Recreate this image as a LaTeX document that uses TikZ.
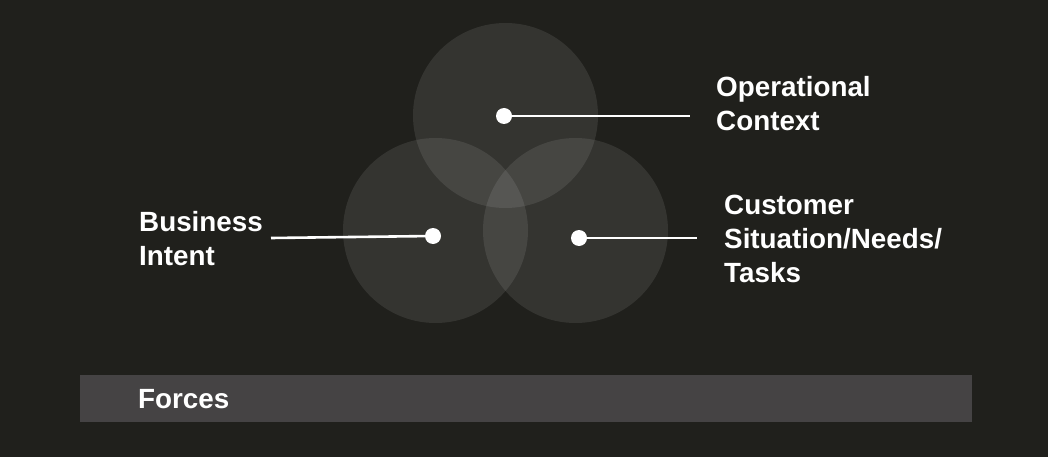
\documentclass[tikz,border=0pt]{standalone}
\usepackage{fontspec}
\setmainfont{Liberation Sans}
\definecolor{bgc}{HTML}{20201C}
\definecolor{barc}{HTML}{454344}
\begin{document}
\begin{tikzpicture}[x=1pt,y=-1pt,
  venn/.style={circle,fill=white,fill opacity=0.09,minimum size=185pt,inner sep=0pt,draw=none},
  dot/.style={circle,fill=white,minimum size=16pt,inner sep=0pt,draw=none},
  lbl/.style={anchor=base west,inner sep=0pt,text=white,font=\fontsize{27.8}{34}\selectfont\bfseries},
  conn/.style={draw=white,line width=2.6pt}]
\useasboundingbox (0,0) rectangle (1048,457);
\fill[bgc] (0,0) rectangle (1048,457);
% circles
\node[venn] (cT) at (505.5,115.5) {};
\node[venn] (cL) at (435.5,230.5) {};
\node[venn] (cR) at (575.5,230.5) {};
% bar
\node[fill=barc,draw=none,inner sep=0pt,minimum width=892pt,minimum height=47pt] (bar) at (526,398.5) {};
\node[lbl] (forces) at (138,408) {Forces};
% dots
\node[dot] (dotT) at (504,116) {};
\node[dot] (dotL) at (433,236) {};
\node[dot] (dotR) at (579,238) {};
% connector free ends
\coordinate (endT) at (690,116);
\coordinate (endL) at (271,238);
\coordinate (endR) at (697,238);
\draw[conn] (dotT.center) -- (endT);
\draw[conn] (endL) -- (dotL.center);
\draw[conn] (dotR.center) -- (endR);
% labels
\node[lbl] (opLbl) at (716,97) {\begin{tabular}[t]{@{}l@{}}Operational\\Context\end{tabular}};
\node[lbl] (biLbl) at (139,231) {\begin{tabular}[t]{@{}l@{}}Business\\Intent\end{tabular}};
\node[lbl] (cuLbl) at (724,214) {\begin{tabular}[t]{@{}l@{}}Customer\\Situation/Needs/\\Tasks\end{tabular}};
\end{tikzpicture}
\end{document}
